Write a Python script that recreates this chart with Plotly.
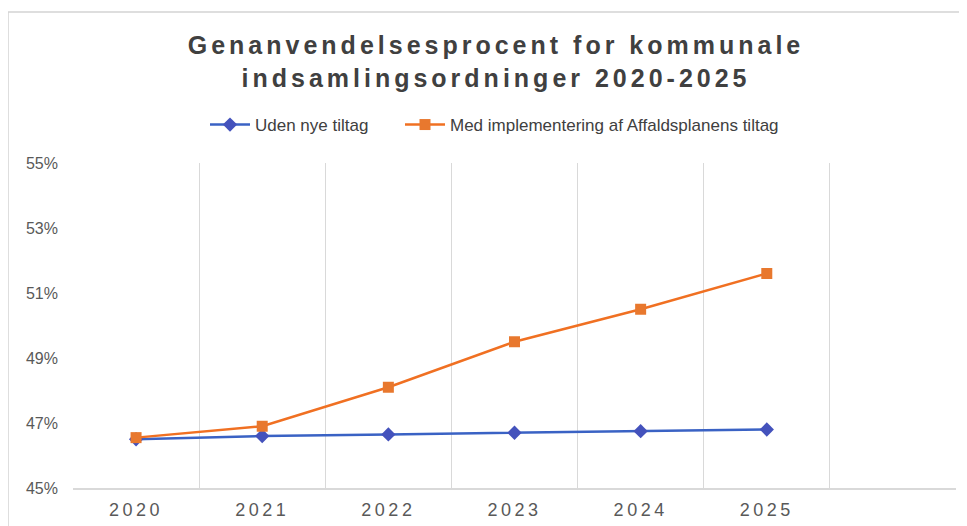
import plotly.graph_objects as go

years = [2020, 2021, 2022, 2023, 2024, 2025]
year_labels = ["2020", "2021", "2022", "2023", "2024", "2025"]
uden_nye_tiltag = [46.5, 46.6, 46.65, 46.7, 46.75, 46.8]
med_tiltag = [46.55, 46.9, 48.1, 49.5, 50.5, 51.6]
y_ticks = [45, 47, 49, 51, 53, 55]
y_tick_labels = ["45%", "47%", "49%", "51%", "53%", "55%"]

OFF = 8  # page body margin
W, H = 967 - OFF, 526 - OFF
ML = 73 - OFF
MT = 163 - OFF
MR = W - (956 - OFF)
MB = H - (488 - OFF)
PW, PH = W - ML - MR, H - MT - MB

def px_x(p):
    return (p - OFF - ML) / PW

def px_y(p):
    return 1 - (p - OFF - MT) / PH

fig = go.Figure()
fig.add_trace(go.Scatter(
    x=years, y=uden_nye_tiltag, name="Uden nye tiltag", mode="lines+markers",
    line=dict(color="#3A62C4", width=2.5),
    marker=dict(symbol="diamond", size=11, color="#4452BC"),
    legend="legend",
))
fig.add_trace(go.Scatter(
    x=years, y=med_tiltag, name="Med implementering af Affaldsplanens tiltag",
    mode="lines+markers",
    line=dict(color="#F07022", width=2.5),
    marker=dict(symbol="square", size=11, color="#E8782E"),
    legend="legend2",
))

leg_common = dict(
    orientation="h", xanchor="left", xref="paper",
    y=px_y(125), yanchor="middle", yref="paper",
    font=dict(size=17, color="#404040"),
    itemwidth=40, bgcolor="rgba(0,0,0,0)",
)

fig.update_layout(
    width=W, height=H,
    margin=dict(l=ML, r=MR, t=MT, b=MB, autoexpand=False),
    paper_bgcolor="white", plot_bgcolor="white",
    font=dict(family="Liberation Sans, Arial, sans-serif", color="#595959"),
    title=dict(
        text='<span style="letter-spacing:4px">Genanvendelsesprocent for kommunale<br>indsamlingsordninger 2020-2025</span>',
        font=dict(size=25, color="#404040", weight="bold"),
        x=(496 - OFF) / W, xanchor="center", xref="container",
        y=1 - (54 - OFF) / H, yanchor="top", yref="container",
    ),
    legend=dict(x=px_x(205), **leg_common),
    legend2=dict(x=px_x(400), **leg_common),
    showlegend=True,
)

fig.update_xaxes(
    range=[2019.5, 2026.5],
    tickmode="array", tickvals=years,
    ticktext=['<span style="letter-spacing:3.5px">%s</span>' % t for t in year_labels],
    tickangle=0, ticklabelstandoff=5,
    showgrid=False, zeroline=False,
    showline=True, linecolor="#D9D9D9", linewidth=1.5,
    ticks="", tickfont=dict(size=18, color="#595959"),
    minor=dict(tickmode="linear", tick0=2019.5, dtick=1, showgrid=True,
               gridcolor="#D9D9D9", gridwidth=1, ticks=""),
    fixedrange=True,
)
fig.update_yaxes(
    range=[45, 55], tickmode="array", tickvals=y_ticks, ticktext=y_tick_labels,
    showgrid=False, zeroline=False, showline=False, ticks="",
    tickfont=dict(size=16, color="#595959"), ticklabelstandoff=14,
    fixedrange=True,
)

fig.add_shape(type="rect", xref="paper", yref="paper",
              x0=px_x(8), x1=px_x(964), y0=px_y(540), y1=px_y(12),
              line=dict(color="#D4D4D4", width=1.5), fillcolor="rgba(0,0,0,0)",
              layer="below")

fig.write_html("out.html")
